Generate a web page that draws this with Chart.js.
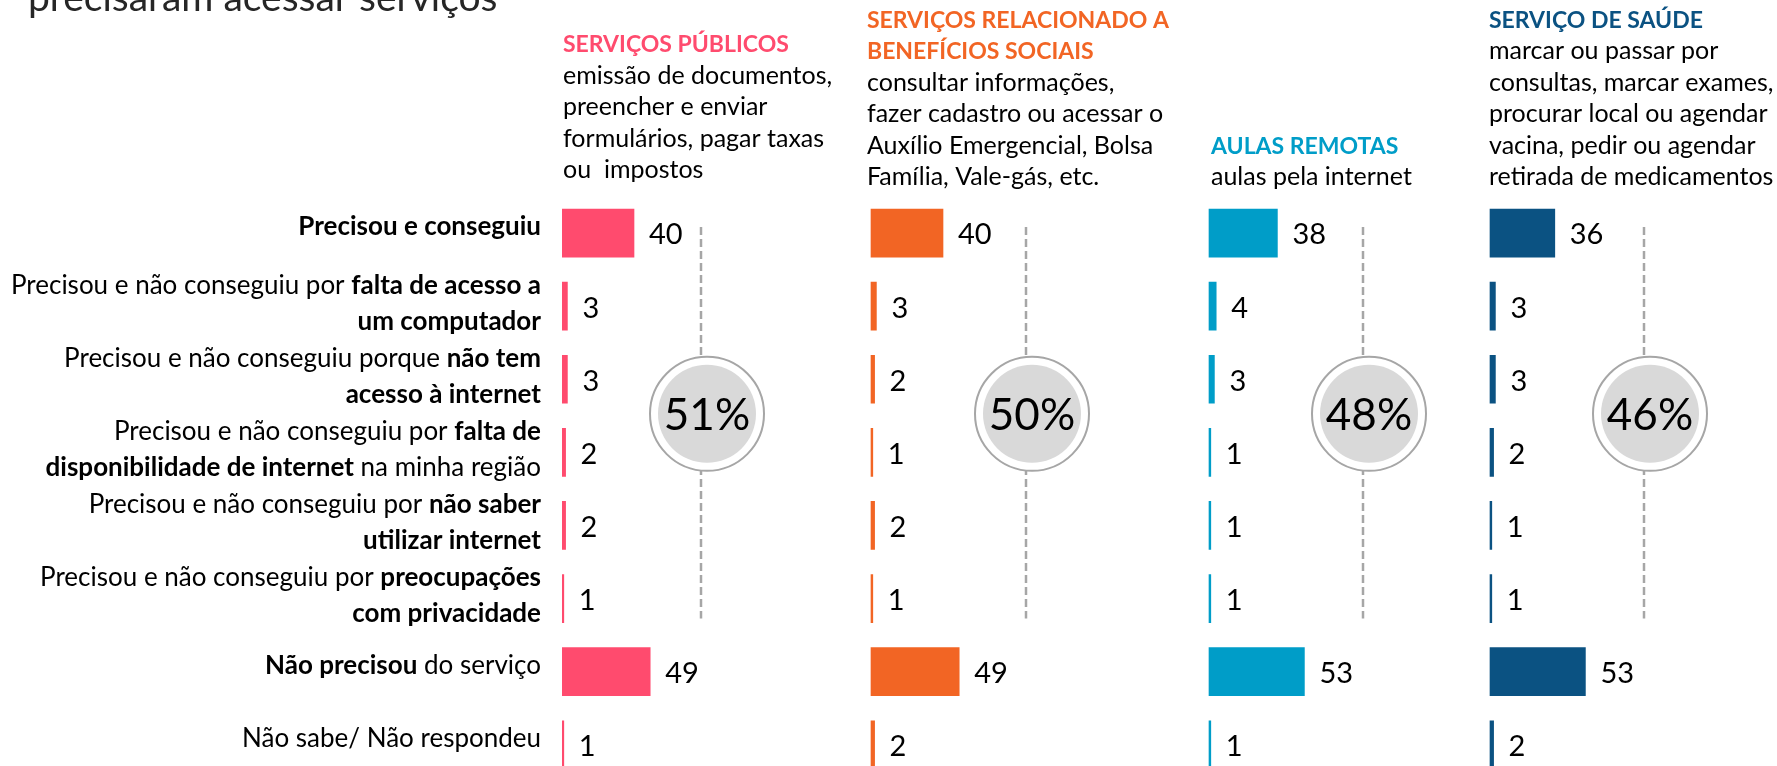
<!DOCTYPE html>
<html lang="pt-BR">
<head>
<meta charset="utf-8">
<title>Serviços</title>
<script src="https://cdn.jsdelivr.net/npm/chart.js@4.4.1/dist/chart.umd.min.js"></script>
<style>
  html, body { margin: 0; padding: 0; background: #fff; overflow: hidden; }
  #wrap { width: 1777px; height: 766px; overflow: hidden; }
</style>
</head>
<body>
<div id="wrap"><canvas id="chart" width="1777" height="790"></canvas></div>
<script>
// Rows (categories)
const rowLabels = [
    'Precisou e conseguiu',
    'Precisou e não conseguiu por falta de acesso a um computador',
    'Precisou e não conseguiu porque não tem acesso à internet',
    'Precisou e não conseguiu por falta de disponibilidade de internet na minha região',
    'Precisou e não conseguiu por não saber utilizar internet',
    'Precisou e não conseguiu por preocupações com privacidade',
    'Não precisou do serviço',
    'Não sabe/ Não respondeu'
];

// same labels split in lines, with bold parts ('b') and normal parts ('n')
const rowLabelLines = [
    [[['b', 'Precisou e conseguiu']]],
    [[['n', 'Precisou e não conseguiu por '], ['b', 'falta de acesso a']], [['b', 'um computador']]],
    [[['n', 'Precisou e não conseguiu porque '], ['b', 'não tem']], [['b', 'acesso à internet']]],
    [[['n', 'Precisou e não conseguiu por '], ['b', 'falta de']], [['b', 'disponibilidade de internet'], ['n', ' na minha região']]],
    [[['n', 'Precisou e não conseguiu por '], ['b', 'não saber']], [['b', 'utilizar internet']]],
    [[['n', 'Precisou e não conseguiu por '], ['b', 'preocupações']], [['b', 'com privacidade']]],
    [[['b', 'Não precisou'], ['n', ' do serviço']]],
    [[['n', 'Não sabe/ Não respondeu']]]
];

// Series values (%)
const servicosPublicos = [40, 3, 3, 2, 2, 1, 49, 1];
const beneficiosSociais = [40, 3, 2, 1, 2, 1, 49, 2];
const aulasRemotas = [38, 4, 3, 1, 1, 1, 53, 1];
const servicoSaude = [36, 3, 3, 2, 1, 1, 53, 2];

// share that needed the service (circles)
const totalPrecisou = ['51%', '50%', '48%', '46%'];

const headerTitles = [
    ['SERVIÇOS PÚBLICOS'],
    ['SERVIÇOS RELACIONADO A', 'BENEFÍCIOS SOCIAIS'],
    ['AULAS REMOTAS'],
    ['SERVIÇO DE SAÚDE']
];
const headerTexts = [
    ['emissão de documentos,', 'preencher e enviar', 'formulários, pagar taxas', 'ou  impostos'],
    ['consultar informações,', 'fazer cadastro ou acessar o', 'Auxílio Emergencial, Bolsa', 'Família, Vale-gás, etc.'],
    ['aulas pela internet'],
    ['marcar ou passar por', 'consultas, marcar exames,', 'procurar local ou agendar', 'vacina, pedir ou agendar', 'retirada de medicamentos']
];
const pageTitle = 'precisaram acessar serviços';

// styles / layout
const panelColors = ['#FF4B6E', '#F26524', '#009DC8', '#0B5282'];
const panelStart = [562, 871, 1209, 1490];
const dashX = [701, 1026, 1363, 1644];
const headerX = [563, 867, 1211, 1489];
const headerLastBase = [178, 185, 185, 185];
const PX_PER_UNIT = 1.8;
const AREA_LEFT = 562;
const AREA_RIGHT = 1777;
const FONT = 'Lato, "Open Sans", sans-serif';

function fontFor(kind, size) {
    return (kind === 'b' ? 'bold ' : '') + size + 'px ' + FONT;
}

function xScaleFor(k) {
    const min = -(panelStart[k] - AREA_LEFT) / PX_PER_UNIT;
    return {
        type: 'linear',
        axis: 'x',
        display: false,
        min: min,
        max: min + (AREA_RIGHT - AREA_LEFT) / PX_PER_UNIT
    };
}

function drawRightParts(ctx, parts, rightX, y, size) {
    let total = 0;
    parts.forEach(p => { ctx.font = fontFor(p[0], size); total += ctx.measureText(p[1]).width; });
    let x = rightX - total;
    parts.forEach(p => {
        ctx.font = fontFor(p[0], size);
        ctx.fillText(p[1], x, y);
        x += ctx.measureText(p[1]).width;
    });
}

const decorPlugin = {
    id: 'decor',
    beforeDatasetsDraw(chart) {
        const ctx = chart.ctx;
        const y = chart.scales.y;
        const top = y.getPixelForValue(0) - 6;
        const bottom = y.getPixelForValue(5) + 20;
        const cy = (y.getPixelForValue(2) + y.getPixelForValue(3)) / 2 - 2;
        ctx.save();
        dashX.forEach((dx, k) => {
            // dashed guide
            ctx.strokeStyle = '#A6A6A6';
            ctx.lineWidth = 2.5;
            ctx.setLineDash([8, 4]);
            ctx.beginPath();
            ctx.moveTo(dx, top);
            ctx.lineTo(dx, bottom);
            ctx.stroke();
            ctx.setLineDash([]);

            // circle with total
            const cx = dx + 6;
            ctx.beginPath();
            ctx.arc(cx, cy, 57, 0, Math.PI * 2);
            ctx.fillStyle = '#fff';
            ctx.fill();
            ctx.lineWidth = 2;
            ctx.strokeStyle = '#A6A6A6';
            ctx.stroke();
            ctx.beginPath();
            ctx.arc(cx, cy, 49, 0, Math.PI * 2);
            ctx.fillStyle = '#D9D9D9';
            ctx.fill();

            ctx.fillStyle = '#000';
            ctx.font = '44px ' + FONT;
            ctx.textAlign = 'center';
            ctx.textBaseline = 'middle';
            ctx.fillText(totalPrecisou[k], cx, cy + 2);
        });
        ctx.restore();
    },
    afterDraw(chart) {
        const ctx = chart.ctx;
        const y = chart.scales.y;
        ctx.save();

        // page title (cut at the top)
        ctx.fillStyle = '#262626';
        ctx.font = '39px ' + FONT;
        ctx.textAlign = 'left';
        ctx.textBaseline = 'alphabetic';
        ctx.fillText(pageTitle, 28, 11);

        // row labels
        ctx.fillStyle = '#000';
        ctx.textBaseline = 'middle';
        rowLabelLines.forEach((lines, i) => {
            const two = lines.length > 1;
            const c = y.getPixelForValue(i) - (two ? 3 : 6);
            const step = 36;
            lines.forEach((parts, j) => {
                const ly = c + (j - (lines.length - 1) / 2) * step;
                drawRightParts(ctx, parts, 541, ly, 26);
            });
        });

        // value labels
        ctx.font = '29px ' + FONT;
        ctx.textAlign = 'left';
        chart.data.datasets.forEach((ds, k) => {
            const meta = chart.getDatasetMeta(k);
            meta.data.forEach((bar, i) => {
                ctx.fillText(String(ds.data[i]), bar.x + 15, bar.y + 2);
            });
        });

        // panel headers
        ctx.textBaseline = 'alphabetic';
        headerTitles.forEach((titles, k) => {
            const lines = titles.map(t => ['b', t]).concat(headerTexts[k].map(t => ['n', t]));
            lines.forEach((ln, j) => {
                const by = headerLastBase[k] - (lines.length - 1 - j) * 31.5;
                ctx.font = fontFor(ln[0], ln[0] === 'b' ? 23 : 25);
                ctx.fillStyle = ln[0] === 'b' ? panelColors[k] : '#000';
                ctx.fillText(ln[1], headerX[k], by);
            });
        });
        ctx.restore();
    }
};

const seriesList = [servicosPublicos, beneficiosSociais, aulasRemotas, servicoSaude];

new Chart(document.getElementById('chart'), {
    type: 'bar',
    data: {
        labels: rowLabels,
        datasets: seriesList.map((values, k) => ({
            label: headerTitles[k].join(' '),
            data: values,
            xAxisID: 'x' + k,
            yAxisID: 'y',
            grouped: false,
            backgroundColor: panelColors[k],
            borderWidth: 0,
            barThickness: 48
        }))
    },
    options: {
        indexAxis: 'y',
        responsive: false,
        animation: false,
        devicePixelRatio: 1,
        layout: {
            padding: { left: AREA_LEFT, right: 0, top: 196.5, bottom: 8.7 }
        },
        plugins: {
            legend: { display: false },
            tooltip: { enabled: false }
        },
        scales: {
            y: { type: 'category', display: false, offset: true },
            x0: xScaleFor(0),
            x1: xScaleFor(1),
            x2: xScaleFor(2),
            x3: xScaleFor(3)
        }
    },
    plugins: [decorPlugin]
});
</script>
</body>
</html>
